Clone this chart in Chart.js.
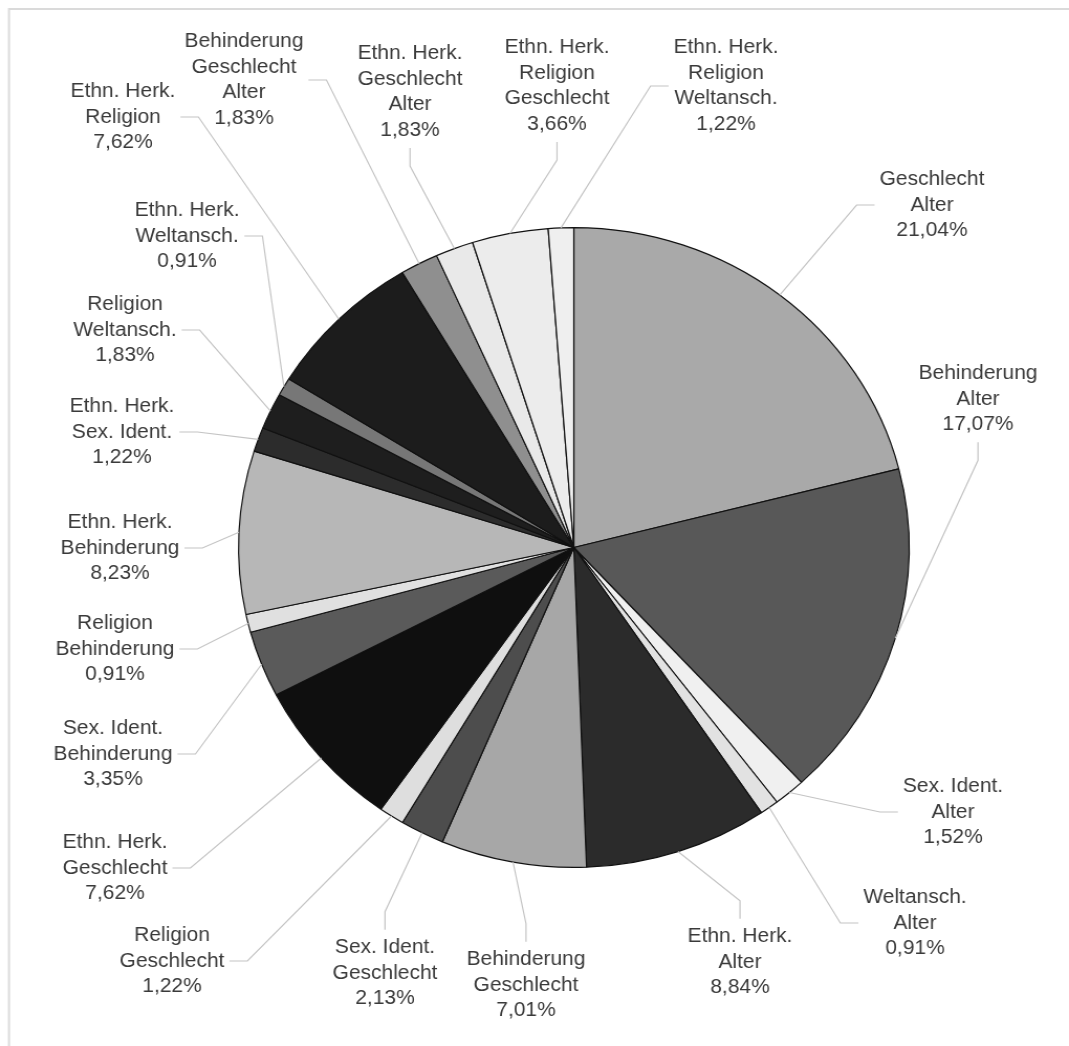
<!DOCTYPE html>
<html lang="de">
<head>
<meta charset="utf-8">
<title>Mehrfachdiskriminierung – Merkmalskombinationen</title>
<script src="https://cdn.jsdelivr.net/npm/chart.js@4.4.1/dist/chart.umd.min.js"></script>
<style>
  html, body { margin: 0; padding: 0; background: #fff; }
  #pie { display: block; }
</style>
</head>
<body>
<!-- bitmap is 1020 wide but shown 1069 wide: the original pie is slightly oval -->
<canvas id="pie" width="1020" height="1046" style="width:1069px;height:1046px"></canvas>
<script>
/* ── data ── */
const categories = [
  ['Geschlecht', 'Alter'],
  ['Behinderung', 'Alter'],
  ['Sex. Ident.', 'Alter'],
  ['Weltansch.', 'Alter'],
  ['Ethn. Herk.', 'Alter'],
  ['Behinderung', 'Geschlecht'],
  ['Sex. Ident.', 'Geschlecht'],
  ['Religion', 'Geschlecht'],
  ['Ethn. Herk.', 'Geschlecht'],
  ['Sex. Ident.', 'Behinderung'],
  ['Religion', 'Behinderung'],
  ['Ethn. Herk.', 'Behinderung'],
  ['Ethn. Herk.', 'Sex. Ident.'],
  ['Religion', 'Weltansch.'],
  ['Ethn. Herk.', 'Weltansch.'],
  ['Ethn. Herk.', 'Religion'],
  ['Behinderung', 'Geschlecht', 'Alter'],
  ['Ethn. Herk.', 'Geschlecht', 'Alter'],
  ['Ethn. Herk.', 'Religion', 'Geschlecht'],
  ['Ethn. Herk.', 'Religion', 'Weltansch.'],
];

const shares = [
  21.04, 17.07, 1.52, 0.91, 8.84, 7.01, 2.13, 1.22, 7.62, 3.35,
  0.91, 8.23, 1.22, 1.83, 0.91, 7.62, 1.83, 1.83, 3.66, 1.22,
];

const sliceGreys = [
  '#a9a9a9', '#585858', '#f0f0f0', '#e2e2e2', '#2b2b2b',
  '#a7a7a7', '#4d4d4d', '#dedede', '#0f0f0f', '#5a5a5a',
  '#e0e0e0', '#b7b7b7', '#2c2c2c', '#1e1e1e', '#777777',
  '#1c1c1c', '#8f8f8f', '#e9e9e9', '#ececec', '#efefef',
];

/* ── label placement (centre of text block in page px, side the leader leaves from) ── */
const labelSpots = [
  [932, 205, 'left'],   [978, 399, 'bottom'], [953, 812, 'left'],  [915, 923, 'left'],
  [740, 962, 'top'],    [526, 985, 'top'],    [385, 973, 'top'],   [172, 961, 'right'],
  [115, 868, 'right'],  [113, 754, 'right'],  [115, 649, 'right'], [120, 548, 'right'],
  [122, 432, 'right'],  [125, 330, 'right'],  [187, 236, 'right'], [123, 117, 'right'],
  [244, 80, 'right'],   [410, 92, 'bottom'],  [557, 86, 'bottom'], [726, 86, 'left'],
];

/* ── constants ── */
const CANVAS_W = 1020;
const SX       = 1069 / CANVAS_W;       // horizontal stretch of the bitmap
const LINE_H   = 25.5;
const GAP      = 5;
const ELBOW    = 18;
const FONT     = '20px "Liberation Sans", Arial, Helvetica, sans-serif';

const fmtPct = (v) => v.toFixed(2).replace('.', ',') + '%';

/* ================================================================
   PLUGINS
   ================================================================ */
const framePlugin = {
  id: 'frame',
  beforeDraw(chart) {
    const { ctx, width, height } = chart;
    ctx.save();
    ctx.strokeStyle = '#dadada';
    ctx.lineWidth = 2;
    ctx.beginPath();
    ctx.moveTo(9 / SX, height);
    ctx.lineTo(9 / SX, 9);
    ctx.lineTo(width, 9);
    ctx.stroke();
    ctx.restore();
  },
};

const calloutPlugin = {
  id: 'callouts',
  afterDatasetsDraw(chart) {
    const ctx  = chart.ctx;
    const arcs = chart.getDatasetMeta(0).data;
    ctx.save();
    ctx.font = FONT;
    ctx.textAlign = 'center';
    ctx.textBaseline = 'middle';

    arcs.forEach((arc, i) => {
      const [rx, ry, side] = labelSpots[i];
      const cx = rx / SX;
      const cy = ry;
      const lines  = [...categories[i], fmtPct(shares[i])];
      const blockH = lines.length * LINE_H;
      const w = Math.max(...lines.map((l) => ctx.measureText(l).width));

      let sx, sy, ex, ey;
      if (side === 'left') {
        sx = cx - w / 2 - GAP / SX; sy = cy; ex = sx - ELBOW / SX; ey = sy;
      } else if (side === 'right') {
        sx = cx + w / 2 + GAP / SX; sy = cy; ex = sx + ELBOW / SX; ey = sy;
      } else if (side === 'top') {
        sx = cx; sy = cy - blockH / 2 - GAP; ex = sx; ey = sy - ELBOW;
      } else {
        sx = cx; sy = cy + blockH / 2 + GAP; ex = sx; ey = sy + ELBOW;
      }

      const mid = (arc.startAngle + arc.endAngle) / 2;
      const px  = arc.x + Math.cos(mid) * arc.outerRadius;
      const py  = arc.y + Math.sin(mid) * arc.outerRadius;

      ctx.strokeStyle = '#c4c4c4';
      ctx.lineWidth = 1.2;
      ctx.beginPath();
      ctx.moveTo(sx, sy);
      ctx.lineTo(ex, ey);
      ctx.lineTo(px, py);
      ctx.stroke();

      ctx.fillStyle = '#3a3a3a';
      lines.forEach((l, k) => {
        ctx.fillText(l, cx, cy - blockH / 2 + LINE_H * (k + 0.5));
      });
    });
    ctx.restore();
  },
};

/* ================================================================
   CHART
   ================================================================ */
new Chart(document.getElementById('pie'), {
  type: 'pie',
  data: {
    labels: categories.map((c) => c.join(' ')),
    datasets: [{
      data: shares,
      backgroundColor: sliceGreys,
      borderColor: '#111111',
      borderWidth: 1.2,
      hoverOffset: 0,
    }],
  },
  options: {
    responsive: false,
    animation: false,
    events: [],
    layout: { padding: { left: 227, top: 227, right: 152, bottom: 178 } },
    plugins: {
      legend: { display: false },
      tooltip: { enabled: false },
    },
  },
  plugins: [framePlugin, calloutPlugin],
});
</script>
</body>
</html>
